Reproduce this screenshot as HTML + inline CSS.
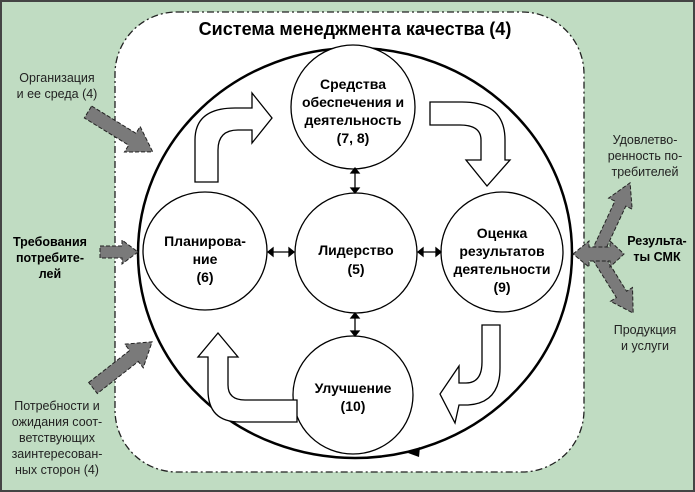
<!DOCTYPE html><html><head><meta charset="utf-8"><style>
html,body{margin:0;padding:0;background:#fff}
svg{display:block}
text{font-family:"Liberation Sans","DejaVu Sans",sans-serif}
</style></head><body>
<svg width="695" height="492" viewBox="0 0 695 492" xmlns="http://www.w3.org/2000/svg">
<rect x="1" y="1" width="693" height="490" fill="#c0dcc2" stroke="#444" stroke-width="2"/>
<rect x="115" y="12" width="469" height="460" rx="62" fill="#fff" stroke="#222" stroke-width="1.3" stroke-dasharray="7,3,2,3"/>
<text x="355" y="35" font-size="18" font-weight="bold" text-anchor="middle">Система менеджмента качества (4)</text>
<ellipse cx="355" cy="253" rx="217" ry="205" fill="none" stroke="#000" stroke-width="2.5"/>
<polygon points="408,453 420,447 419,457" fill="#000"/>
<g fill="#fff" stroke="#000" stroke-width="1.3">
<ellipse cx="353" cy="107" rx="62" ry="62"/>
<ellipse cx="205" cy="251" rx="62" ry="59"/>
<ellipse cx="356" cy="253" rx="61" ry="60"/>
<ellipse cx="502" cy="252" rx="61" ry="60"/>
<ellipse cx="353" cy="395" rx="60" ry="59"/>
<path d="M195,182 L195,140 Q195,108 235,108 L252,108 L252,93 L272,118 L252,143 L252,130 L238,130 Q218,130 218,150 L218,182 Z"/>
<path d="M430,102 L462,102 Q505,102 505,140 L505,160 L510,160 L487,186 L466,160 L481,160 L481,140 Q481,125 460,125 L430,125 Z"/>
<path d="M482,325 L500,325 L500,368 Q500,403 468,405 L459,405 L455,423 L440,394 L459,366 L459,383 L466,383 Q482,383 482,362 Z"/>
<path d="M218,333 L238,357 L228,357 L228,385 Q228,400 245,400 L297,400 L297,422 L240,422 Q208,422 208,390 L208,357 L198,357 Z"/>
</g>
<g stroke="#000" stroke-width="1.3" fill="#000">
<line x1="355" y1="172" x2="355" y2="189"/><polygon points="351,173 359,173 355,168"/><polygon points="351,188 359,188 355,193"/>
<line x1="355" y1="317" x2="355" y2="332"/><polygon points="351,318 359,318 355,313"/><polygon points="351,331 359,331 355,336"/>
<line x1="272" y1="252" x2="290" y2="252"/><polygon points="273,248 273,256 268,252"/><polygon points="289,248 289,256 294,252"/>
<line x1="422" y1="252" x2="437" y2="252"/><polygon points="423,248 423,256 418,252"/><polygon points="436,248 436,256 441,252"/>
</g>
<g fill="#7a7a7a" stroke="#222" stroke-width="1" stroke-dasharray="4,2">
<g transform="translate(88,112) rotate(31.6)"><polygon points="0,-7 52,-7 52,-15 76,0 52,15 52,7 0,7"/></g>
<polygon points="100,246 122,246 122,240 138,252 122,264 122,258 100,258"/>
<g transform="translate(93,388) rotate(-38)"><polygon points="0,-7 52,-7 52,-15 75,0 52,15 52,7 0,7"/></g>
<g transform="translate(595,258) rotate(-65)"><polygon points="0,-6 60,-6 60,-13 83,0 60,13 60,6 0,6"/></g>
<g transform="translate(595,252) rotate(58)"><polygon points="0,-6 50,-6 50,-13 72,0 50,13 50,6 0,6"/></g>
<polygon points="573,254 589,241 589,247 610,247 610,241 624,254 610,267 610,261 589,261 589,267"/>
</g>
<g font-size="14" font-weight="bold" text-anchor="middle">
<text x="353" y="89">Средства</text><text x="353" y="107">обеспечения и</text><text x="353" y="125">деятельность</text><text x="353" y="143">(7, 8)</text>
<text x="205" y="246">Планирова-</text><text x="205" y="264">ние</text><text x="205" y="282">(6)</text>
<text x="356" y="255">Лидерство</text><text x="356" y="274">(5)</text>
<text x="502" y="238">Оценка</text><text x="502" y="256">результатов</text><text x="502" y="274">деятельности</text><text x="502" y="292">(9)</text>
<text x="353" y="393">Улучшение</text><text x="353" y="411">(10)</text>
</g>
<g font-size="12.5" text-anchor="middle" fill="#222">
<text x="57" y="82">Организация</text><text x="57" y="98">и ее среда (4)</text>
<text x="57" y="410">Потребности и</text><text x="57" y="426">ожидания соот-</text><text x="57" y="442">ветствующих</text><text x="57" y="458">заинтересован-</text><text x="57" y="474">ных сторон (4)</text>
<text x="645" y="144">Удовлетво-</text><text x="645" y="160">ренность по-</text><text x="645" y="176">требителей</text>
<text x="645" y="334">Продукция</text><text x="645" y="350">и услуги</text>
</g>
<g font-size="12.5" font-weight="bold" text-anchor="middle">
<text x="50" y="246">Требования</text><text x="50" y="262">потребите-</text><text x="50" y="278">лей</text>
<text x="657" y="245">Результа-</text><text x="657" y="261">ты СМК</text>
</g>
</svg>
</body></html>
